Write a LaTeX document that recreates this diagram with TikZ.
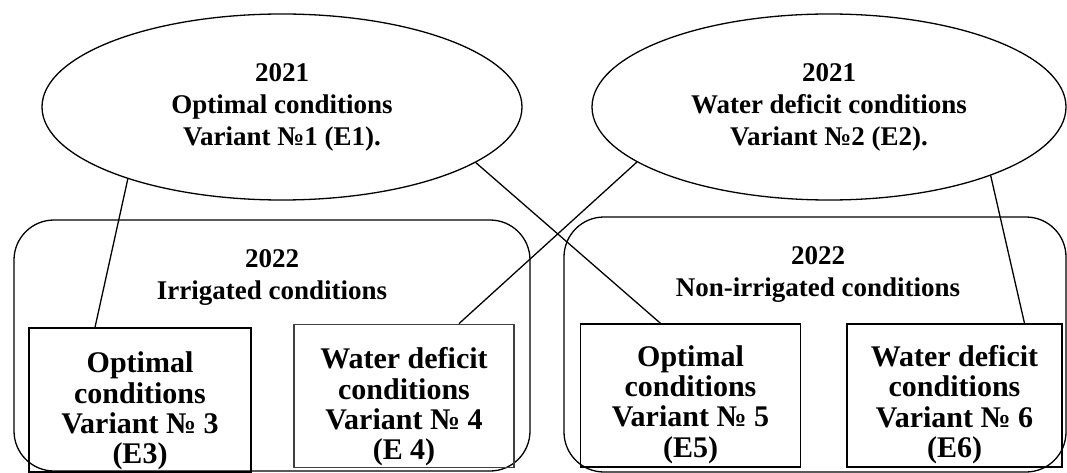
\documentclass[tikz,border=0pt]{standalone}
\usepackage{fontspec}
\setmainfont{Liberation Serif}
\usetikzlibrary{shapes.geometric}

\begin{document}
\begin{tikzpicture}[x=1pt, y=-1pt, line width=1.3pt,
  yearoval/.style={ellipse, draw, inner sep=0pt, minimum width=480pt,
    minimum height=186pt, align=center, font=\fontsize{27}{32}\selectfont\bfseries},
  season/.style={draw, rounded corners=40pt, inner sep=0pt},
  seasonhead/.style={align=center, font=\fontsize{27}{32}\selectfont\bfseries},
  variant/.style={draw, inner sep=0pt, minimum width=220pt, minimum height=143pt},
  varianttext/.style={align=center, font=\fontsize{30}{30.4}\selectfont\bfseries}]

\useasboundingbox (0,0) rectangle (1067,473);

% 2021 ovals
\node[yearoval] (e1) at (282,107) {2021\\Optimal conditions\\Variant №1 (E1).};
\node[yearoval, minimum width=474pt] (e2) at (829,107)
  {2021\\Water deficit conditions\\Variant №2 (E2).};

% 2022 groups
\node[season, minimum width=516pt, minimum height=251pt] (irr) at (272,345.5) {};
\node[season, minimum width=502pt, minimum height=255pt] (nonirr) at (815,344.5) {};
\node[seasonhead] (irrhead) at (272,277) {2022\\Irrigated conditions};
\node[seasonhead] (nonirrhead) at (818,274) {2022\\Non-irrigated conditions};

% Variants
\node[variant, minimum width=222pt, minimum height=144pt] (e3) at (140,400) {};
\node[variant, draw=black!75, line width=1.8pt] (e4) at (404,396) {};
\node[variant] (e5) at (690.5,395.5) {};
\node[variant, minimum width=215pt] (e6) at (954.5,395.5) {};

\node[varianttext] (e3text) at ([yshift=-11pt]e3) {Optimal\\conditions\\Variant № 3\\(E3)};
\node[varianttext] (e4text) at ([yshift=-11pt]e4) {Water deficit\\conditions\\Variant № 4\\(E 4)};
\node[varianttext] (e5text) at ([yshift=-9pt]e5) {Optimal\\conditions\\Variant № 5\\(E5)};
\node[varianttext] (e6text) at ([yshift=-9pt]e6) {Water deficit\\conditions\\Variant № 6\\(E6)};

% Links
\foreach \from/\to/\dx in {e1.205/e3/-45, e1.344/e5/-30, e2.196/e4/55, e2.337/e6/70}
  \draw (\from) -- ([xshift=\dx pt]\to.north);

\end{tikzpicture}
\end{document}
